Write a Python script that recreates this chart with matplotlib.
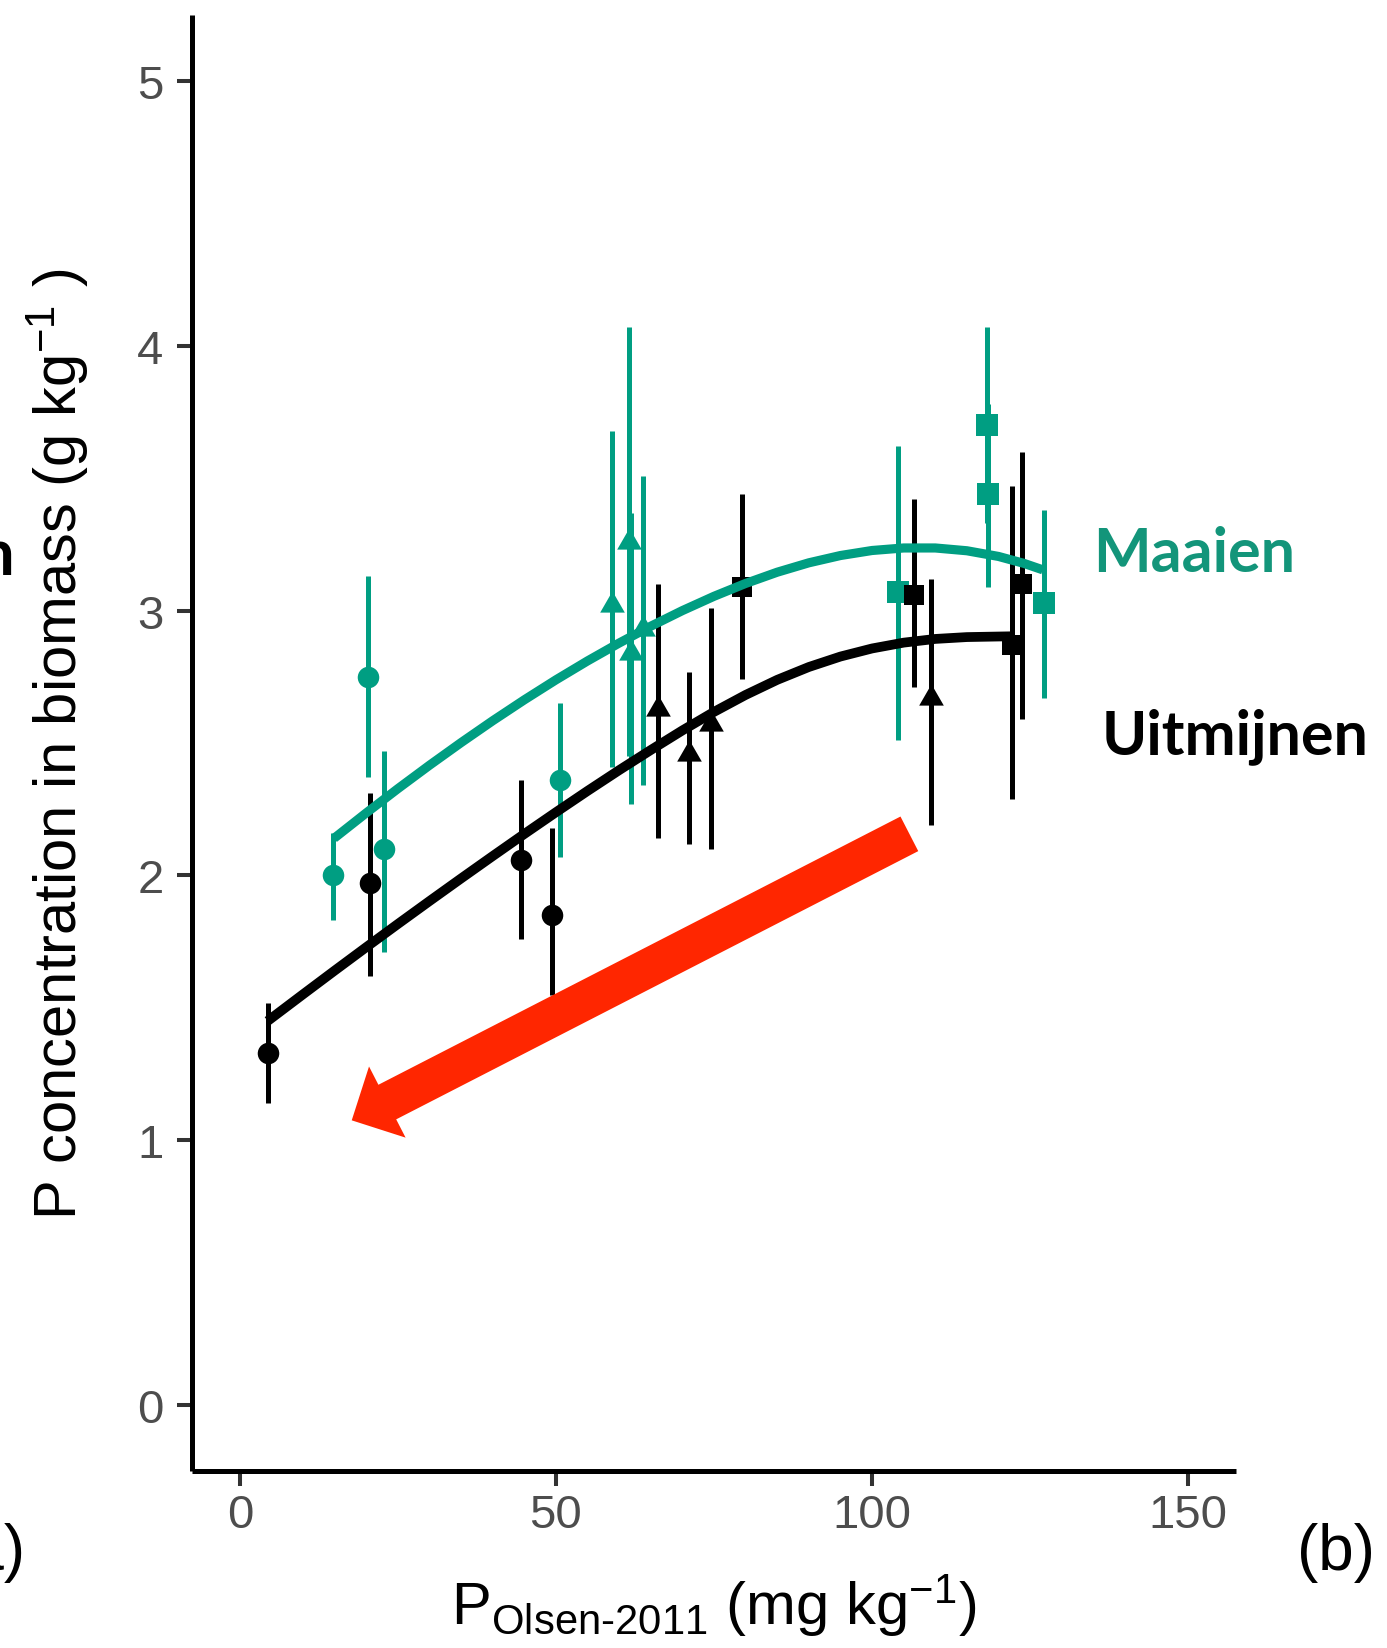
import matplotlib
matplotlib.use("Agg")
import matplotlib.pyplot as plt
from matplotlib.patches import FancyArrowPatch, ArrowStyle
from matplotlib.path import Path

plt.rcParams['font.family'] = ['Liberation Sans', 'DejaVu Sans']
plt.rcParams['mathtext.fontset'] = 'custom'
plt.rcParams['mathtext.rm'] = 'Liberation Sans'
plt.rcParams['mathtext.it'] = 'Liberation Sans:italic'
plt.rcParams['mathtext.bf'] = 'Liberation Sans:bold'

# ---------------- data ----------------
# Uitmijnen (black)
uit_circ_x = [4.5, 20.6, 44.4, 49.4]
uit_circ_y = [1.33, 1.97, 2.06, 1.85]
uit_circ_lo = [1.14, 1.62, 1.76, 1.55]
uit_circ_hi = [1.52, 2.31, 2.36, 2.18]

uit_tri_x = [66.2, 71.0, 74.5, 109.3]
uit_tri_y = [2.63, 2.46, 2.57, 2.67]
uit_tri_lo = [2.14, 2.12, 2.10, 2.19]
uit_tri_hi = [3.10, 2.77, 3.01, 3.12]

uit_sq_x = [79.5, 106.6, 122.1, 123.7]
uit_sq_y = [3.09, 3.06, 2.87, 3.10]
uit_sq_lo = [2.74, 2.71, 2.29, 2.59]
uit_sq_hi = [3.44, 3.42, 3.47, 3.60]

# Maaien (teal)
maa_circ_x = [14.8, 20.3, 22.8, 50.7]
maa_circ_y = [2.00, 2.75, 2.10, 2.36]
maa_circ_lo = [1.83, 2.37, 1.71, 2.07]
maa_circ_hi = [2.16, 3.13, 2.47, 2.65]

maa_tri_x = [58.9, 61.5, 61.8, 63.7]
maa_tri_y = [3.02, 3.26, 2.84, 2.93]
maa_tri_lo = [2.41, 2.45, 2.27, 2.34]
maa_tri_hi = [3.68, 4.07, 3.37, 3.51]

maa_sq_x = [104.1, 118.2, 118.4, 127.2]
maa_sq_y = [3.07, 3.70, 3.44, 3.03]
maa_sq_lo = [2.51, 3.33, 3.09, 2.67]
maa_sq_hi = [3.62, 4.07, 3.78, 3.38]

# fitted curves
uit_fit_x = [4.4, 10, 15, 20, 25, 30, 35, 40, 45, 50, 55, 60, 65, 70, 75,
             80, 85, 90, 95, 100, 105, 110, 115, 122.1]
uit_fit_y = [1.45, 1.551, 1.6405, 1.729, 1.8165, 1.903, 1.9885, 2.073, 2.1565,
             2.2385, 2.319, 2.3975, 2.4735, 2.5475, 2.6175, 2.6815, 2.7385,
             2.787, 2.8265, 2.857, 2.879, 2.893, 2.900, 2.903]

maa_fit_x = [14.9, 20, 25, 30, 35, 40, 45, 50, 55, 60, 65, 70, 75, 80, 85, 90,
             95, 100, 105, 110, 115, 120, 124, 127]
maa_fit_y = [2.14, 2.236, 2.3275, 2.416, 2.5015, 2.584, 2.663, 2.7385, 2.810,
             2.8775, 2.941, 3.000, 3.054, 3.1025, 3.145, 3.1805, 3.208, 3.227,
             3.2365, 3.2365, 3.226, 3.2045, 3.1785, 3.154]

x_ticks = [0, 50, 100, 150]
y_ticks = [0, 1, 2, 3, 4, 5]

arrow_start = (105.9, 2.157)
arrow_end = (17.7, 1.075)

# ---------------- styles ----------------
BLACK = '#000000'
TEAL = '#009E82'
TEAL_TXT = '#13957A'
RED = '#FF2600'

W, H = 1387, 1649
fig = plt.figure(figsize=(W / 100, H / 100), dpi=100)
left, right = 192.4 / W, 1235.6 / W
bottom, top = 1 - 1472.2 / H, 1 - 15.8 / H
ax = fig.add_axes([left, bottom, right - left, top - bottom])

tri_marker = Path([(0, 1), (-0.866, -0.5), (0.866, -0.5), (0, 1)],
                  [Path.MOVETO, Path.LINETO, Path.LINETO, Path.CLOSEPOLY])


def draw_group(xs, ys, lo, hi, color, marker, ms):
    ax.vlines(xs, lo, hi, colors=color, linewidth=3.6, zorder=2)
    ax.plot(xs, ys, linestyle='none', marker=marker, markersize=ms,
            color=color, markeredgewidth=0, zorder=3)


draw_group(maa_circ_x, maa_circ_y, maa_circ_lo, maa_circ_hi, TEAL, 'o', 15.5)
draw_group(maa_tri_x, maa_tri_y, maa_tri_lo, maa_tri_hi, TEAL, tri_marker, 20.5)
draw_group(maa_sq_x, maa_sq_y, maa_sq_lo, maa_sq_hi, TEAL, 's', 15.5)
draw_group(uit_circ_x, uit_circ_y, uit_circ_lo, uit_circ_hi, BLACK, 'o', 15.5)
draw_group(uit_tri_x, uit_tri_y, uit_tri_lo, uit_tri_hi, BLACK, tri_marker, 20.5)
draw_group(uit_sq_x, uit_sq_y, uit_sq_lo, uit_sq_hi, BLACK, 's', 15.0)

ax.plot(maa_fit_x, maa_fit_y, color=TEAL, linewidth=6.6, zorder=4,
        solid_capstyle='butt', solid_joinstyle='round')
ax.plot(uit_fit_x, uit_fit_y, color=BLACK, linewidth=7.0, zorder=4,
        solid_capstyle='butt', solid_joinstyle='round')

arrow = FancyArrowPatch(arrow_start, arrow_end,
                        arrowstyle=ArrowStyle.Simple(head_length=28.8, head_width=57.6, tail_width=28.0),
                        mutation_scale=1, color=RED, shrinkA=0, shrinkB=0,
                        linewidth=0, zorder=5)
ax.add_patch(arrow)

ax.set_xlim(-7.5, 157.5)
ax.set_ylim(-0.25, 5.25)
ax.set_xticks(x_ticks)
ax.set_yticks(y_ticks)
ax.set_xticklabels([str(v) for v in x_ticks])
ax.set_yticklabels([str(v) for v in y_ticks])

for s in ['top', 'right']:
    ax.spines[s].set_visible(False)
for s in ['left', 'bottom']:
    ax.spines[s].set_linewidth(3.6)
    ax.spines[s].set_color('black')
    ax.spines[s].set_capstyle('butt')

ax.tick_params(axis='both', length=10.8, width=2.9, color='#333333',
               labelsize=34, labelcolor='#4D4D4D')
ax.tick_params(axis='x', pad=5)
ax.tick_params(axis='y', pad=10)

ax.set_xlabel(r'P$_{\mathrm{Olsen\text{-}2011}}$ (mg kg$^{-1}$)', fontsize=43, color='black')
ax.xaxis.label.set_va('baseline')
ax.xaxis.set_label_coords(0.5, (1472.2 - 1625) / (1472.2 - 15.8))

ax.set_ylabel(r'P concentration in biomass (g kg$^{-1}$ )', fontsize=43, color='black')
ax.yaxis.label.set_va('baseline')
ax.yaxis.set_label_coords((77 - 192.4) / (1235.6 - 192.4), 0.5)

ax.text(151.0, 3.151, 'Maaien', fontfamily='Lato', fontweight='bold', fontsize=44,
        color=TEAL_TXT, ha='center', va='baseline', clip_on=False)
ax.text(157.4, 2.460, 'Uitmijnen', fontfamily='Lato', fontweight='bold', fontsize=44,
        color='black', ha='center', va='baseline', clip_on=False)

fig.text(1336 / W, 1 - 1570 / H, '(b)', fontsize=46, color='black', ha='center', va='baseline')
fig.text(25 / W, 1 - 1570 / H, '(a)', fontsize=46, color='black', ha='right', va='baseline')
fig.text(15 / W, 1 - 575 / H, 'n', fontfamily='Lato', fontweight='bold', fontsize=47,
         color='black', ha='right', va='baseline')

fig.savefig('out.png', dpi=100)
